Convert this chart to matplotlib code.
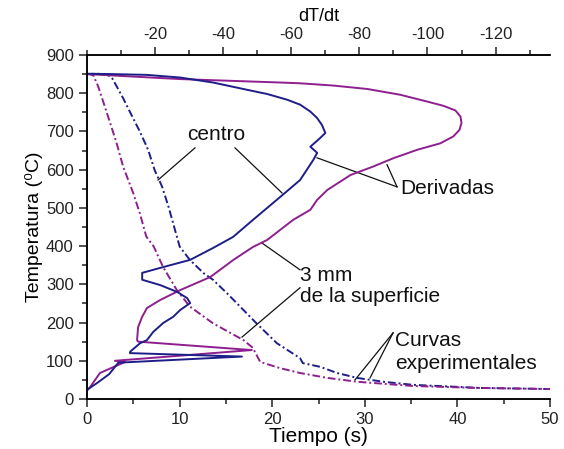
import numpy as np
import matplotlib
matplotlib.use('Agg')
import matplotlib.pyplot as plt
from matplotlib.ticker import MultipleLocator

plt.rcParams['font.family'] = ['Liberation Sans', 'DejaVu Sans']
plt.rcParams['axes.unicode_minus'] = False

BLUE = '#1e1e88'
PURPLE = '#8e1f8e'

# experimental cooling curves, temperature vs time (s)
t_centro = [0, 1.0, 2.1, 2.7, 3.2, 3.9, 4.8, 5.7, 6.6, 7.3, 8.1, 8.8, 9.7,
            10.0, 11.1, 12.6, 13.6, 15.1, 16.2, 18.3, 20.5, 23.0, 23.3, 25.2,
            27.0, 29.2, 32.0, 35.2, 42.4, 50]
T_centro = [850, 851, 850, 840, 818, 787, 743, 700, 652, 599, 556, 503, 425,
            399, 364, 329, 312, 277, 250, 198, 146, 107, 94, 84,
            68, 55, 45, 37, 29, 26]

t_sup = [0, 0.3, 0.7, 1.2, 1.8, 2.5, 3.2, 3.9, 5.0, 5.7, 6.4, 7.2, 8.2, 9.7,
         11.1, 13.6, 16.9, 17.9, 18.7, 20.8, 23.0, 26.0, 29.2, 35.2, 42.0, 50]
T_sup = [850, 850, 846, 818, 774, 722, 669, 608, 538, 486, 425, 399, 346, 285,
         242, 198, 154, 134, 97, 81, 68, 55, 45, 34, 29, 26]

# derivatives dT/dt vs temperature (top axis)
d_centro = [0, -7.6, -17.6, -27.4, -37, -47, -52.9, -58.8, -62.6, -65.6, -67.6,
            -69, -70, -68.5, -65.6, -67.6, -66.5, -62.6, -56.8, -48.8,
            -42.9, -37, -30.3, -21.5, -16.2, -16.2, -21.5, -26.5, -29.4,
            -30.3, -27.4, -25.3, -22.4, -19.4, -17.6, -15.6, -12.7, -12.6,
            -45.5, -9.2, -6.5, -3.0, 0]
T_dcentro = [851, 850, 848, 841, 828, 809, 798, 783, 770, 752, 735,
             717, 696, 683, 660, 644, 626, 573, 529, 469,
             424, 395, 364, 343, 330, 312, 298, 280, 264,
             251, 233, 215, 199, 175, 154, 146, 124, 120,
             111, 95, 65, 42, 24]

d_sup = [0, -27.4, -56.8, -62.6, -72.4, -82.4, -92, -100, -104.7, -108.2,
         -109.7, -110, -109.4, -107.6, -103.8, -97, -90, -84, -77.4,
         -70.6, -67.6, -65.6, -60.6, -52.9, -48.8, -43, -36.2, -27.4, -21.5,
         -17.6, -16.2, -15, -14.7, -15.0, -48.4, -8.2, -11.2, -3.8, -0.9, 0]
T_dsup = [850, 837, 828, 826, 820, 811, 796, 778, 767, 755,
          739, 722, 704, 687, 669, 652, 630, 608, 586,
          547, 521, 495, 469, 416, 398, 364, 319, 285, 259,
          238, 215, 188, 154, 150, 128, 100, 97, 68, 31, 22]

fig = plt.figure(figsize=(5.64, 4.49), dpi=100)
ax = fig.add_axes([0.1543, 0.1114, 0.8209, 0.7661])
ax2 = ax.twiny()

dash = (4, 1.5, 1, 1.5)
ax.plot(t_centro, T_centro, color=BLUE, lw=1.4, dashes=dash)
ax.plot(t_sup, T_sup, color=PURPLE, lw=1.4, dashes=dash)
ax2.plot(d_sup, T_dsup, color=PURPLE, lw=1.4)
ax2.plot(d_centro, T_dcentro, color=BLUE, lw=1.4)

ax.set_xlim(0, 50)
ax.set_ylim(0, 900)
ax2.set_xlim(0, -136)

ax.xaxis.set_major_locator(MultipleLocator(10))
ax.xaxis.set_minor_locator(MultipleLocator(5))
ax.yaxis.set_major_locator(MultipleLocator(100))
ax.yaxis.set_minor_locator(MultipleLocator(50))
ax2.set_xticks([-20, -40, -60, -80, -100, -120])
ax2.xaxis.set_minor_locator(MultipleLocator(10))

for a in (ax, ax2):
    a.spines['right'].set_visible(False)
    for s in a.spines.values():
        s.set_linewidth(1.1)
    a.tick_params(which='both', direction='out', width=1.1, labelsize=12,
                  colors='#222222')
    a.tick_params(which='major', length=6)
    a.tick_params(which='minor', length=3.5)

ax.set_xlabel('Tiempo (s)', fontsize=15, labelpad=0)
ax.set_ylabel('Temperatura (⁰C)', fontsize=14, labelpad=2)
ax2.set_xlabel('dT/dt', fontsize=13, labelpad=4)

# annotations
txt = dict(fontsize=15, color='#111111')
ax.text(13.93, 691, 'centro', ha='center', va='center', **txt)
ax.text(33.8, 552, 'Derivadas', ha='left', va='center', **txt)
ax.text(23.0, 322, '3 mm', ha='left', va='center', **txt)
ax.text(23.0, 267, 'de la superficie', ha='left', va='center', **txt)
ax.text(33.26, 154, 'Curvas', ha='left', va='center', **txt)
ax.text(33.26, 94, 'experimentales', ha='left', va='center', **txt)

leaders = [((11.66, 657), (7.67, 573)), ((15.98, 657), (21.06, 539)),
           ((33.48, 555), (24.84, 631)), ((33.48, 555), (32.4, 613)),
           ((23.0, 338), (18.9, 408)), ((23.0, 291), (16.74, 162)),
           ((33.05, 173), (28.94, 50)), ((33.05, 173), (30.56, 55))]
for (x0, y0), (x1, y1) in leaders:
    ax.plot([x0, x1], [y0, y1], color='#111111', lw=0.9)

fig.savefig('out.png', dpi=100)
